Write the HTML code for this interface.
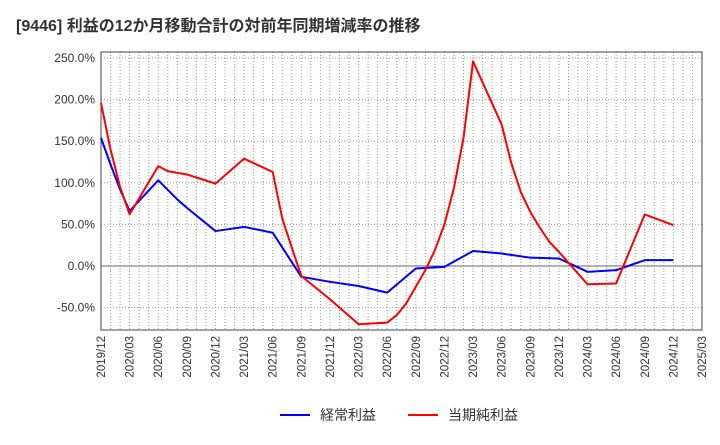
<!DOCTYPE html>
<html><head><meta charset="utf-8"><style>
body{margin:0;background:#fff;}
svg text{font-family:"Liberation Sans","Noto Sans CJK JP",sans-serif;}
</style></head><body>
<svg id="chart" width="720" height="440" xmlns="http://www.w3.org/2000/svg">
<text x="16" y="31" font-size="16" font-weight="bold" fill="#333">[9446]  利益の12か月移動合計の対前年同期増減率の推移</text>
<g id="grid"></g><g id="axes"></g><g id="series"></g>
<g>
<line x1="280" y1="415" x2="310" y2="415" stroke="#0000ff" stroke-width="2"/>
<text x="320" y="420" font-size="14" fill="#333">経常利益</text>
<line x1="408" y1="415" x2="438" y2="415" stroke="#ff0000" stroke-width="2"/>
<text x="448" y="420" font-size="14" fill="#333">当期純利益</text>
</g>
</svg>
<script>
const xTickLabels=["2019/12","2020/03","2020/06","2020/09","2020/12","2021/03","2021/06","2021/09","2021/12","2022/03","2022/06","2022/09","2022/12","2023/03","2023/06","2023/09","2023/12","2024/03","2024/06","2024/09","2024/12","2025/03"];
const yTicks=[-50,0,50,100,150,200,250];
const blueMonths=[0,1,2,3,6,8,9,12,15,18,21,24,27,30,33,36,39,42,45,48,51,54,57,60];
const blueVals=[154,122,92,66,103,80,70,42,47,40,-13,-19,-24,-32,-3,-1,18,15,10,9,-7,-5,7,7];
const redMonths=[0,1,2,3,6,7,9,12,15,18,19,20,21,24,27,30,31,32,33,34,35,36,37,38,39,42,43,44,45,46,47,48,51,54,57,60];
const redVals=[196,140,95,62,120,114,110,99,129,113,57,22,-12,-40,-70,-68,-59,-45,-25,-5,19,50,94,154,246,170,124,89,65,46,29,17,-22,-21,62,49];
const X0=101,X1=702,Y0=52,Y1=330,NM=63;
const xs=m=>X0+(X1-X0)*m/NM;
const ys=v=>266-(v)*41.6/50;
const NS="http://www.w3.org/2000/svg";
function mk(t,a,p){const e=document.createElementNS(NS,t);for(const k in a)e.setAttribute(k,a[k]);p.appendChild(e);return e;}
const grid=document.getElementById('grid'),axes=document.getElementById('axes'),ser=document.getElementById('series');
for(let m=1;m<NM;m++){const l=mk('line',{x1:xs(m),x2:xs(m),y1:Y0,y2:Y1,stroke:'#999','stroke-dasharray':'1,2','stroke-width':1},grid);

}
yTicks.forEach(v=>{const l=mk('line',{x1:X0,x2:X1,y1:ys(v),y2:ys(v),stroke:v===0?'#666':'#999','stroke-dasharray':v===0?'none':'1,2','stroke-width':1},grid);


const t=mk('text',{x:X0-6,y:ys(v)+4,'text-anchor':'end','font-size':12,fill:'#333'},axes);


t.textContent=v.toFixed(1)+'%';});
const fr=mk('rect',{x:X0,y:Y0,width:X1-X0,height:Y1-Y0,fill:'none',stroke:'#444','stroke-width':1},axes);


xTickLabels.forEach((s,i)=>{const x=xs(i*3),y=Y1+6;
const t=mk('text',{x:x+4,y:y,'text-anchor':'end','font-size':11.5,fill:'#333',transform:`rotate(-90 ${x+4} ${y})`},axes);


t.textContent=s;});
function line(ms,vs,c,name){const p=mk('polyline',{points:ms.map((m,i)=>xs(m)+','+ys(vs[i])).join(' '),fill:'none',stroke:c,'stroke-width':2,'stroke-linejoin':'round'},ser);

}
line(blueMonths,blueVals,'#0000ff','ordinary-profit-line');
line(redMonths,redVals,'#ff0000','net-profit-line');
</script>
</body></html>
